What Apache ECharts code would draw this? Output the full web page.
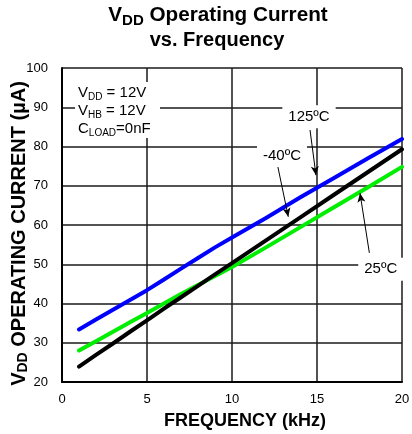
<!DOCTYPE html>
<html>
<head>
<meta charset="utf-8">
<script src="https://cdn.jsdelivr.net/npm/echarts@6/dist/echarts.min.js"></script>
<style>
html,body{margin:0;padding:0;background:#fff;}
#c{width:412px;height:434px;}
</style>
</head>
<body>
<div id="c"></div>
<script>
// ---- data ----
const frequency = [1, 2, 3, 4, 5, 6, 7, 8, 9, 10, 12, 14, 16, 18, 20];
const current125 = [33.4, 35.9, 38.4, 40.9, 43.4, 46.1, 48.9, 51.6, 54.3, 56.8, 61.8, 67.0, 72.0, 77.0, 81.9];
const currentM40 = [23.9, 26.9, 29.8, 32.8, 35.7, 38.7, 41.6, 44.5, 47.4, 50.3, 56.1, 61.9, 67.7, 73.5, 79.3];
const current25  = [28.0, 30.4, 32.8, 35.2, 37.6, 40.0, 42.4, 44.7, 47.0, 49.3, 54.3, 59.4, 64.5, 69.6, 74.8];
const xTicks = [0, 5, 10, 15, 20];
const yTicks = [20, 30, 40, 50, 60, 70, 80, 90, 100];
// annotation labels: [text, labelX, labelY, arrowFromX, arrowFromY, arrowToX, arrowToY]
const curveLabels = [
  ['125ºC', 14.53, 87.6, 14.59, 84.2, 14.94, 72.7],
  ['-40ºC', 12.94, 77.7, 12.69, 75.0, 13.31, 62.1],
  ['25ºC', 18.75, 48.7, 18.08, 52.9, 17.53, 68.1]
];

const FONT = 'Liberation Sans, Arial, sans-serif';
const pairs = arr => frequency.map((f, i) => [f, arr[i]]);

const chart = echarts.init(document.getElementById('c'), null, {renderer: 'canvas'});

const gridLine = {show: true, lineStyle: {color: '#1a1a1a', width: 1.5}};

const option = {
  animation: false,
  backgroundColor: '#fff',
  grid: {left: 62, right: 10, top: 68, bottom: 52, containLabel: false, outerBoundsMode: 'none'},
  xAxis: {
    type: 'value', min: xTicks[0], max: xTicks[xTicks.length - 1], interval: 5,
    axisLine: {show: true, lineStyle: {color: '#000', width: 2}},
    axisTick: {show: false},
    splitLine: gridLine,
    axisLabel: {color: '#000', fontSize: 13, fontFamily: FONT, margin: 11},
    name: 'FREQUENCY (kHz)',
    nameLocation: 'middle',
    nameGap: 30,
    nameMoveOverlap: false,
    nameTextStyle: {color: '#000', fontSize: 18, fontWeight: 'bold', fontFamily: FONT, padding: [0, 0, 0, 26]}
  },
  yAxis: {
    type: 'value', min: yTicks[0], max: yTicks[yTicks.length - 1], interval: 10,
    axisLine: {show: true, lineStyle: {color: '#000', width: 2}},
    axisTick: {show: false},
    splitLine: gridLine,
    axisLabel: {color: '#000', fontSize: 13, fontFamily: FONT, margin: 14},
    name: '{b|V}{s|DD}{b| OPERATING CURRENT (µA)}',
    nameLocation: 'middle',
    nameRotate: 90,
    nameGap: 32,
    nameMoveOverlap: false,
    nameTextStyle: {
      color: '#000', fontSize: 20, fontWeight: 'bold', fontFamily: FONT,
      padding: [0, 17, 0, 0],
      rich: {
        b: {fontSize: 20, fontWeight: 'bold', fontFamily: FONT, color: '#000', lineHeight: 22, verticalAlign: 'middle'},
        s: {fontSize: 14, fontWeight: 'bold', fontFamily: FONT, color: '#000', lineHeight: 13, verticalAlign: 'bottom'}
      }
    }
  },
  graphic: [
    {
      type: 'text', z: 100,
      style: {
        x: 218, y: 15, align: 'center', verticalAlign: 'middle',
        text: '{b|V}{s|DD}{b| Operating Current}',
        rich: {
          b: {fontSize: 20.7, fontWeight: 'bold', fontFamily: FONT, fill: '#000', lineHeight: 26, verticalAlign: 'middle'},
          s: {fontSize: 15, fontWeight: 'bold', fontFamily: FONT, fill: '#000', lineHeight: 14, verticalAlign: 'bottom'}
        }
      }
    },
    {
      type: 'text', z: 100,
      style: {
        x: 217, y: 40, align: 'center', verticalAlign: 'middle',
        text: 'vs. Frequency',
        font: 'bold 20px ' + FONT, fill: '#000'
      }
    },
    {
      type: 'rect', z: 99,
      shape: {x: 75, y: 82, width: 85, height: 56},
      style: {fill: '#fff'}
    },
    {
      type: 'text', z: 100,
      style: {
        x: 78, y: 84, align: 'left', verticalAlign: 'top',
        text: '{n|V}{s|DD}{n| = 12V}\n{n|V}{s|HB}{n| = 12V}\n{n|C}{s|LOAD}{n|=0nF}',
        rich: {
          n: {fontSize: 15, fontFamily: FONT, fill: '#000', lineHeight: 18, verticalAlign: 'middle'},
          s: {fontSize: 10, fontFamily: FONT, fill: '#000', lineHeight: 11, verticalAlign: 'bottom'}
        }
      }
    }
  ],
  series: [
    {
      name: '125ºC', type: 'line', data: pairs(current125), showSymbol: false, smooth: false,
      lineStyle: {color: '#0000ff', width: 4, cap: 'round', join: 'round'}, z: 3,
      markPoint: {
        silent: true, animation: false,
        symbol: 'circle', symbolSize: 1, itemStyle: {color: 'rgba(0,0,0,0)'},
        label: {show: true, position: 'inside', color: '#000', fontSize: 15, fontFamily: FONT,
                backgroundColor: '#fff', padding: [4, 6, 4, 6]},
        data: curveLabels.map(c => ({coord: [c[1], c[2]], label: {formatter: c[0]}}))
      },
      markLine: {
        silent: true, animation: false,
        symbol: ['none', 'arrow'], symbolSize: [6, 9],
        label: {show: false},
        lineStyle: {color: '#000', width: 1, type: 'solid'},
        data: curveLabels.map(c => [{coord: [c[3], c[4]]}, {coord: [c[5], c[6]]}])
      }
    },
    {
      name: '25ºC', type: 'line', data: pairs(current25), showSymbol: false,
      lineStyle: {color: '#00ee00', width: 4, cap: 'round', join: 'round'}, z: 3
    },
    {
      name: '-40ºC', type: 'line', data: pairs(currentM40), showSymbol: false,
      lineStyle: {color: '#000000', width: 4, cap: 'round', join: 'round'}, z: 3
    }
  ]
};
chart.setOption(option);
</script>
</body>
</html>
